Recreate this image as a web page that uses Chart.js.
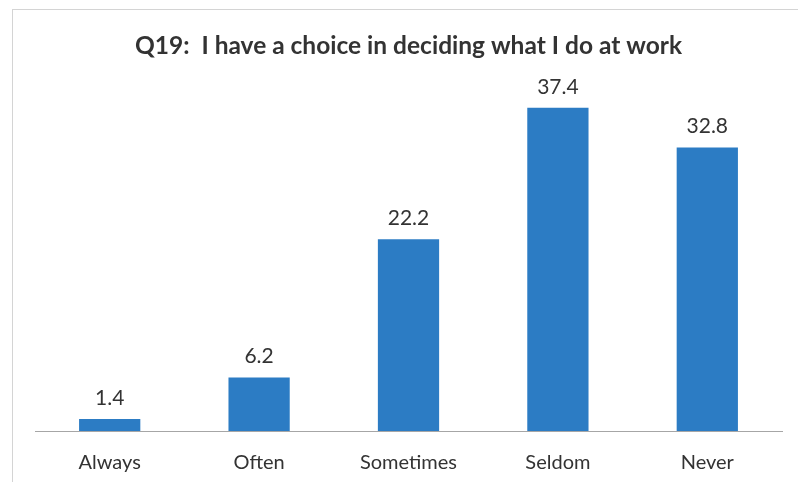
<!DOCTYPE html>
<html>
<head>
<meta charset="utf-8">
<script src="https://cdn.jsdelivr.net/npm/chart.js@4"></script>
<style>
  html, body { margin: 0; padding: 0; background: #fff; }
  #wrap { position: relative; width: 798px; height: 482px; overflow: hidden; }
  #frame { position: absolute; left: 12px; top: 9px; width: 900px; height: 600px; border: 1px solid #d4d4d4; }
  #chart { position: absolute; left: 0; top: 0; }
</style>
</head>
<body>
<div id="wrap">
  <div id="frame"></div>
  <canvas id="chart" width="798" height="482"></canvas>
</div>
<script>
// Survey answers (percent)
const categories = ['Always', 'Often', 'Sometimes', 'Seldom', 'Never'];
const percents = [1.4, 6.2, 22.2, 37.4, 32.8];
const chartTitle = 'Q19:  I have a choice in deciding what I do at work';

const fontFamily = 'Lato, "Open Sans", sans-serif';

// Draw the value above each bar
const valueLabels = {
    id: 'valueLabels',
    afterDatasetsDraw(chart) {
        const ctx = chart.ctx;
        const meta = chart.getDatasetMeta(0);
        ctx.save();
        ctx.font = '21px ' + fontFamily;
        ctx.fillStyle = '#333';
        ctx.textAlign = 'center';
        ctx.textBaseline = 'middle';
        meta.data.forEach((bar, i) => {
            ctx.fillText(percents[i].toFixed(1), bar.x, bar.y - 21);
        });
        ctx.restore();
    }
};

new Chart(document.getElementById('chart'), {
    type: 'bar',
    data: {
        labels: categories,
        datasets: [{
            data: percents,
            backgroundColor: '#2c7cc4',
            barPercentage: 0.41,
            categoryPercentage: 1
        }]
    },
    options: {
        responsive: false,
        animation: false,
        layout: { padding: { left: 35, right: 16, top: 0, bottom: 0 } },
        plugins: {
            legend: { display: false },
            tooltip: { enabled: false },
            title: {
                display: true,
                text: chartTitle,
                color: '#333',
                font: { family: fontFamily, size: 24.5, weight: 'bold' },
                padding: { top: 31, bottom: 25 }
            }
        },
        scales: {
            x: {
                grid: { display: false, drawTicks: false },
                border: { display: true, color: '#a6a6a6', width: 1 },
                ticks: { color: '#333', padding: 20, font: { family: fontFamily, size: 20 } },
                // keep the axis box the same height as in the original
                afterFit(scale) { scale.height = 51; }
            },
            y: {
                display: false,
                min: 0,
                max: 40
            }
        }
    },
    plugins: [valueLabels]
});
</script>
</body>
</html>
